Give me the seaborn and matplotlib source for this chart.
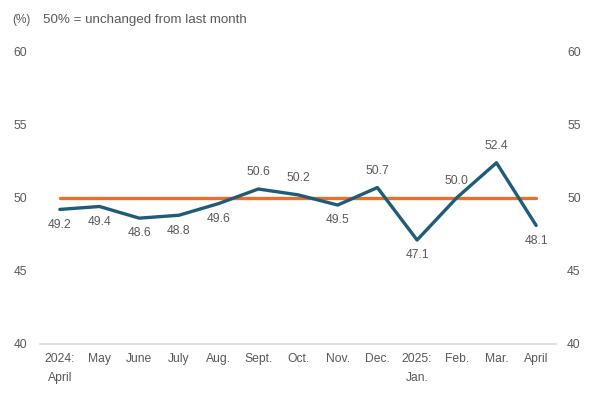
import matplotlib
matplotlib.use("Agg")
import matplotlib.pyplot as plt
import seaborn as sns
import pandas as pd
import numpy as np

months = ["2024:\nApril", "May", "June", "July", "Aug.", "Sept.", "Oct.", "Nov.",
          "Dec.", "2025:\nJan.", "Feb.", "Mar.", "April"]
values = [49.2, 49.4, 48.6, 48.8, 49.6, 50.6, 50.2, 49.5, 50.7, 47.1, 50.0, 52.4, 48.1]
label_pos = ["below", "below", "below", "below", "below", "above", "above", "below",
             "above", "below", "above", "above", "below"]
baseline = 50
yticks = [40, 45, 50, 55, 60]

sns.set_theme(style="white")
plt.rcParams['font.family'] = ['Liberation Sans', 'DejaVu Sans']

df = pd.DataFrame({"x": np.arange(len(months)), "value": values})

fig = plt.figure(figsize=(6.1, 3.96), dpi=100)
ax = fig.add_axes([40/610, (396 - 343.5)/396, 516/610, 291.5/396])

text_color = "#595959"
ax.axhline(baseline, color="#E8702A", lw=2.4, xmin=0.5/13, xmax=12.5/13, zorder=2)
sns.lineplot(data=df, x="x", y="value", ax=ax, color="#1F5C7A", lw=2.4, zorder=3)

for i, (v, p) in enumerate(zip(values, label_pos)):
    off = 12 if p == "above" else -11
    ax.annotate(f"{v:.1f}", (i, v), xytext=(0, off), textcoords="offset points",
                ha="center", va="center", fontsize=8.7, color=text_color)

ax.set_xlim(-0.5, len(months) - 0.5)
ax.set_ylim(40, 60)
ax.set_yticks(yticks)
ax.set_xticks(range(len(months)))
ax.set_xticklabels(months, fontsize=8.7, color=text_color, va="top", linespacing=1.7)
ax.tick_params(axis="y", labelsize=8.7, labelcolor=text_color, length=0, pad=9)
ax.tick_params(axis="x", length=0, pad=7)
ax.set_xlabel("")
ax.set_ylabel("")
for s in ["top", "left", "right"]:
    ax.spines[s].set_visible(False)
ax.spines["bottom"].set_color("#D9D9D9")
ax.spines["bottom"].set_linewidth(1.2)

ax2 = ax.twinx()
ax2.set_ylim(40, 60)
ax2.set_yticks(yticks)
ax2.tick_params(axis="y", labelsize=8.7, labelcolor=text_color, length=0, pad=8)
for s in ax2.spines.values():
    s.set_visible(False)

fig.text(12/610, 1 - 20/396, "(%)", fontsize=8.5, color=text_color, va="center")
fig.text(43/610, 1 - 20/396, "50% = unchanged from last month", fontsize=9.6,
         color=text_color, va="center")

fig.savefig("out.png", dpi=100)
